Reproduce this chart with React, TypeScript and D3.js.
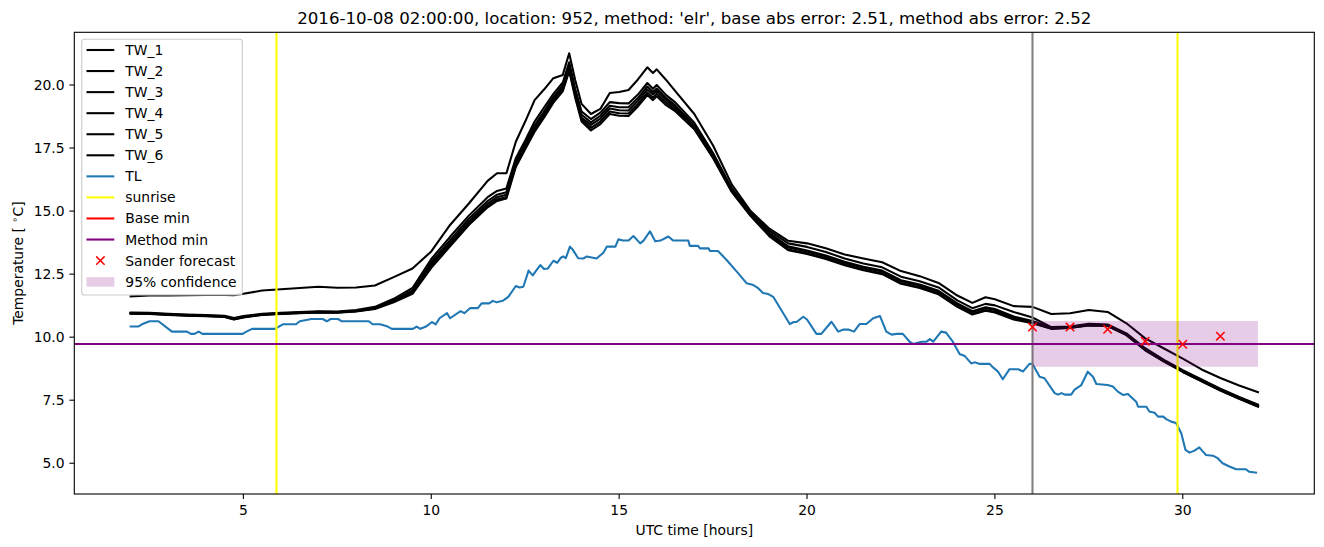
import React from 'react';
import * as d3 from 'd3';

const TITLE = "2016-10-08 02:00:00, location: 952, method: 'elr', base abs error: 2.51, method abs error: 2.52";
const X_TICKS = [5, 10, 15, 20, 25, 30];
const Y_TICKS = [5, 7.5, 10, 12.5, 15, 17.5, 20];
const X_DOMAIN = [0.5, 33.5];
const Y_DOMAIN = [3.78, 22.09];

const T_TW = [2, 2.5, 3, 3.5, 4, 4.5, 4.75, 5, 5.5, 6, 6.5, 7, 7.5, 8, 8.5, 9, 9.5, 10, 10.5, 11, 11.5, 11.75, 12, 12.25, 12.5, 12.75, 13, 13.25, 13.5, 13.67, 13.83, 14, 14.25, 14.5, 14.75, 15, 15.25, 15.5, 15.75, 15.9, 16, 16.25, 16.5, 17, 17.5, 18, 18.5, 19, 19.5, 20, 20.5, 21, 21.5, 22, 22.5, 23, 23.5, 24, 24.4, 24.75, 25, 25.5, 26, 26.5, 27, 27.5, 28, 28.5, 29, 29.5, 30, 30.5, 31, 31.5, 32];

const TW_1 = [11.62, 11.65, 11.65, 11.66, 11.67, 11.67, 11.66, 11.72, 11.85, 11.9, 11.95, 12.0, 11.96, 11.97, 12.05, 12.38, 12.72, 13.4, 14.45, 15.3, 16.2, 16.5, 16.5, 17.75, 18.55, 19.4, 19.82, 20.27, 20.4, 21.26, 20.2, 19.25, 18.85, 19.05, 19.68, 19.72, 19.8, 20.22, 20.7, 20.48, 20.62, 20.2, 19.75, 18.85, 17.6, 16.05, 15.0, 14.3, 13.82, 13.72, 13.53, 13.28, 13.12, 12.97, 12.62, 12.42, 12.15, 11.65, 11.36, 11.58, 11.5, 11.23, 11.2, 10.92, 10.95, 11.08, 11.0, 10.55, 9.95, 9.55, 9.15, 8.72, 8.38, 8.08, 7.82];
const TW_2 = [10.98, 10.97, 10.93, 10.9, 10.88, 10.85, 10.76, 10.84, 10.93, 10.97, 11.0, 11.03, 11.02, 11.08, 11.2, 11.52, 11.95, 13.1, 13.98, 14.82, 15.55, 15.8, 15.9, 17.1, 17.8, 18.55, 19.1, 19.65, 20.1, 20.9, 19.85, 18.95, 18.65, 18.9, 19.32, 19.28, 19.27, 19.62, 20.08, 19.85, 20.0, 19.6, 19.3, 18.5, 17.3, 15.9, 14.95, 14.22, 13.72, 13.58, 13.38, 13.12, 12.92, 12.77, 12.4, 12.22, 11.97, 11.46, 11.15, 11.32, 11.26, 11.0, 10.78, 10.4, 10.42, 10.53, 10.5, 10.15, 9.56, 9.1, 8.69, 8.32, 7.96, 7.63, 7.33];
const TW_3 = [10.96, 10.95, 10.91, 10.88, 10.86, 10.83, 10.73, 10.81, 10.91, 10.95, 10.98, 11.01, 11.0, 11.05, 11.16, 11.46, 11.85, 12.98, 13.85, 14.7, 15.4, 15.65, 15.75, 16.98, 17.68, 18.4, 18.95, 19.52, 19.98, 20.8, 19.72, 18.82, 18.52, 18.78, 19.18, 19.12, 19.12, 19.48, 19.94, 19.72, 19.86, 19.48, 19.18, 18.4, 17.22, 15.85, 14.9, 14.14, 13.6, 13.44, 13.24, 12.99, 12.79, 12.64, 12.26, 12.09, 11.84, 11.34, 11.03, 11.19, 11.12, 10.82, 10.64, 10.37, 10.4, 10.5, 10.48, 10.12, 9.52, 9.07, 8.66, 8.29, 7.92, 7.6, 7.29];
const TW_4 = [10.94, 10.93, 10.89, 10.86, 10.84, 10.81, 10.71, 10.79, 10.89, 10.93, 10.96, 10.99, 10.98, 11.03, 11.14, 11.43, 11.8, 12.9, 13.75, 14.6, 15.3, 15.55, 15.65, 16.9, 17.6, 18.3, 18.85, 19.45, 19.9, 20.7, 19.65, 18.7, 18.42, 18.67, 19.07, 19.0, 18.99, 19.37, 19.82, 19.62, 19.77, 19.4, 19.1, 18.32, 17.16, 15.8, 14.86, 14.1, 13.56, 13.4, 13.2, 12.95, 12.75, 12.6, 12.22, 12.05, 11.8, 11.3, 11.0, 11.15, 11.08, 10.78, 10.6, 10.35, 10.38, 10.48, 10.46, 10.1, 9.5, 9.05, 8.64, 8.27, 7.9, 7.58, 7.26];
const TW_5 = [10.95, 10.94, 10.9, 10.87, 10.85, 10.82, 10.72, 10.8, 10.9, 10.94, 10.97, 11.0, 10.99, 11.04, 11.14, 11.42, 11.77, 12.82, 13.66, 14.52, 15.21, 15.46, 15.56, 16.82, 17.52, 18.22, 18.77, 19.38, 19.83, 20.62, 19.58, 18.63, 18.3, 18.55, 18.95, 18.88, 18.87, 19.25, 19.7, 19.5, 19.65, 19.3, 19.02, 18.28, 17.13, 15.78, 14.83, 14.03, 13.48, 13.33, 13.13, 12.88, 12.68, 12.53, 12.15, 11.98, 11.73, 11.23, 10.93, 11.08, 11.01, 10.73, 10.57, 10.34, 10.37, 10.47, 10.45, 10.09, 9.49, 9.04, 8.63, 8.26, 7.89, 7.57, 7.25];
const TW_6 = [10.93, 10.92, 10.88, 10.85, 10.83, 10.8, 10.7, 10.78, 10.88, 10.92, 10.95, 10.98, 10.97, 11.02, 11.12, 11.38, 11.72, 12.75, 13.6, 14.45, 15.15, 15.4, 15.5, 16.75, 17.45, 18.15, 18.7, 19.3, 19.75, 20.55, 19.5, 18.55, 18.2, 18.45, 18.85, 18.78, 18.77, 19.15, 19.6, 19.4, 19.55, 19.2, 18.95, 18.25, 17.1, 15.75, 14.8, 14.0, 13.45, 13.3, 13.1, 12.85, 12.65, 12.5, 12.12, 11.95, 11.7, 11.2, 10.9, 11.05, 10.98, 10.7, 10.55, 10.33, 10.36, 10.46, 10.44, 10.08, 9.48, 9.03, 8.62, 8.25, 7.88, 7.56, 7.24];

const TL_T = [2.0, 2.2, 2.3, 2.5, 2.74, 3.1, 3.5, 3.6, 3.7, 3.81, 3.91, 4.98, 5.08, 5.23, 5.84, 6.05, 6.4, 6.5, 6.81, 7.11, 7.22, 7.32, 7.52, 7.62, 8.34, 8.44, 8.64, 8.84, 8.95, 9.51, 9.61, 9.71, 9.86, 10.02, 10.12, 10.22, 10.42, 10.5, 10.78, 10.88, 11.03, 11.24, 11.34, 11.54, 11.64, 11.74, 11.9, 12.05, 12.25, 12.35, 12.45, 12.59, 12.7, 12.9, 13.0, 13.1, 13.25, 13.35, 13.45, 13.51, 13.58, 13.69, 13.75, 13.91, 14.05, 14.14, 14.4, 14.58, 14.67, 14.9, 14.98, 15.1, 15.25, 15.38, 15.56, 15.65, 15.82, 15.96, 16.1, 16.31, 16.44, 16.84, 16.88, 17.1, 17.15, 17.38, 17.42, 17.63, 17.86, 18.13, 18.39, 18.55, 18.7, 18.83, 18.97, 19.1, 19.54, 19.65, 19.72, 19.9, 20.0, 20.25, 20.38, 20.65, 20.83, 20.97, 21.1, 21.25, 21.4, 21.58, 21.76, 21.94, 22.11, 22.25, 22.38, 22.55, 22.73, 22.82, 23.05, 23.18, 23.27, 23.36, 23.57, 23.7, 23.88, 24.06, 24.2, 24.37, 24.46, 24.6, 24.86, 24.95, 25.08, 25.21, 25.39, 25.62, 25.75, 25.92, 26.0, 26.19, 26.32, 26.59, 26.68, 26.77, 26.86, 27.03, 27.12, 27.3, 27.47, 27.61, 27.7, 28.0, 28.14, 28.27, 28.41, 28.54, 28.76, 28.81, 29.03, 29.11, 29.25, 29.34, 29.48, 29.56, 29.69, 29.82, 29.96, 30.07, 30.18, 30.31, 30.44, 30.53, 30.62, 30.8, 30.93, 31.06, 31.24, 31.42, 31.68, 31.77, 31.95];
const TL_V = [10.42, 10.42, 10.51, 10.63, 10.63, 10.22, 10.22, 10.13, 10.13, 10.22, 10.13, 10.13, 10.22, 10.33, 10.33, 10.51, 10.51, 10.63, 10.72, 10.72, 10.63, 10.72, 10.72, 10.63, 10.63, 10.51, 10.51, 10.42, 10.33, 10.33, 10.42, 10.33, 10.42, 10.6, 10.51, 10.75, 10.95, 10.75, 11.03, 10.95, 11.15, 11.15, 11.34, 11.34, 11.44, 11.38, 11.44, 11.6, 12.03, 11.97, 12.0, 12.64, 12.45, 12.86, 12.7, 12.72, 13.03, 12.95, 13.15, 13.2, 13.13, 13.59, 13.5, 13.13, 13.12, 13.2, 13.12, 13.35, 13.59, 13.59, 13.88, 13.83, 13.83, 14.01, 13.72, 13.83, 14.2, 13.8, 13.83, 13.99, 13.83, 13.83, 13.62, 13.62, 13.52, 13.52, 13.42, 13.42, 13.06, 12.6, 12.14, 12.08, 11.94, 11.75, 11.71, 11.6, 10.52, 10.6, 10.6, 10.81, 10.7, 10.13, 10.13, 10.61, 10.22, 10.3, 10.3, 10.22, 10.52, 10.52, 10.75, 10.84, 10.22, 10.1, 10.13, 10.13, 9.82, 9.73, 9.82, 9.82, 9.92, 9.82, 10.22, 10.18, 9.82, 9.33, 9.25, 8.96, 9.0, 8.94, 8.94, 8.8, 8.64, 8.33, 8.73, 8.73, 8.64, 8.94, 8.94, 8.43, 8.37, 7.78, 7.72, 7.78, 7.72, 7.72, 7.92, 8.1, 8.63, 8.43, 8.14, 8.1, 8.04, 7.84, 7.71, 7.75, 7.44, 7.24, 7.24, 7.05, 7.0, 6.85, 6.85, 6.75, 6.65, 6.6, 6.19, 5.53, 5.42, 5.5, 5.63, 5.47, 5.33, 5.3, 5.2, 5.0, 4.87, 4.76, 4.76, 4.66, 4.63];

const SUNRISE = [5.88, 29.86];
const NOW_T = [26];
const BASE_MIN = [9.73];
const METHOD_MIN = [9.73];
const SANDER_T = [26, 27, 28, 29, 30, 31];
const SANDER_V = [10.4, 10.4, 10.31, 9.84, 9.72, 10.04];
const CONF_T = [26, 32];
const CONF_LO = [8.83, 8.83];
const CONF_HI = [10.64, 10.64];

const TW_SERIES = [TW_1, TW_2, TW_3, TW_4, TW_5, TW_6];
const LEGEND = ['TW_1', 'TW_2', 'TW_3', 'TW_4', 'TW_5', 'TW_6', 'TL', 'sunrise', 'Base min', 'Method min', 'Sander forecast', '95% confidence'];

const W = 1324, H = 547;
const L = 74.3, R = 1314.3, TOP = 32.3, BOT = 494;
const FONT = 'DejaVu Sans, sans-serif';
const TL_COLOR = '#1f77b4';

export default function App() {
  const x = d3.scaleLinear().domain(X_DOMAIN).range([L, R]);
  const y = d3.scaleLinear().domain(Y_DOMAIN).range([BOT, TOP]);
  const line = d3.line<[number, number]>().x(d => x(d[0])).y(d => y(d[1]));
  const area = d3.area<number>().x((_, i) => x(CONF_T[i])).y0((_, i) => y(CONF_LO[i])).y1((_, i) => y(CONF_HI[i]));

  const legendX = 81.7, legendY = 39.3, legendW = 160.6, legendH = 255.7;
  const rowY = (i: number) => 50 + i * 21.06;
  const legendHandle = (i: number) => {
    const yy = rowY(i);
    const x0 = 86.5, x1 = 114.3;
    if (i < 6) return <line x1={x0} x2={x1} y1={yy} y2={yy} stroke="black" strokeWidth={2.08} />;
    const colors: Record<number, string> = { 6: TL_COLOR, 7: '#ffff00', 8: '#ff0000', 9: '#800080' };
    if (colors[i]) return <line x1={x0} x2={x1} y1={yy} y2={yy} stroke={colors[i]} strokeWidth={2.08} />;
    if (i === 10) {
      const cx = (x0 + x1) / 2, s = 4.2;
      return <path d={`M${cx - s},${yy - s}L${cx + s},${yy + s}M${cx - s},${yy + s}L${cx + s},${yy - s}`} stroke="#ff0000" strokeWidth={1.5} />;
    }
    return <rect x={x0} y={yy - 4.5} width={x1 - x0} height={9.5} fill="#800080" fillOpacity={0.2} />;
  };

  return (
    <svg width={W} height={H} style={{ position: 'absolute', left: 0, top: 0, background: 'white' }} fontFamily={FONT}>
      <rect x={0} y={0} width={W} height={H} fill="white" />
      <defs>
        <clipPath id="plotclip"><rect x={L} y={TOP} width={R - L} height={BOT - TOP} /></clipPath>
      </defs>
      <g clipPath="url(#plotclip)">
        {TW_SERIES.map((s, k) => (
          <path key={k} d={line(T_TW.map((t, i) => [t, s[i]] as [number, number])) || ''} fill="none" stroke="black" strokeWidth={2.08} strokeLinejoin="round" strokeLinecap="square" />
        ))}
        <path d={line(TL_T.map((t, i) => [t, TL_V[i]] as [number, number])) || ''} fill="none" stroke={TL_COLOR} strokeWidth={2.08} strokeLinejoin="round" strokeLinecap="square" />
        {SUNRISE.map((t, i) => <line key={i} x1={x(t)} x2={x(t)} y1={TOP} y2={BOT} stroke="#ffff00" strokeWidth={2.08} />)}
        {NOW_T.map((t, i) => <line key={i} x1={x(t)} x2={x(t)} y1={TOP} y2={BOT} stroke="#808080" strokeWidth={2.08} />)}
        {BASE_MIN.map((v, i) => <line key={i} x1={L} x2={R} y1={y(v)} y2={y(v)} stroke="#ff0000" strokeWidth={2.08} />)}
        {METHOD_MIN.map((v, i) => <line key={i} x1={L} x2={R} y1={y(v)} y2={y(v)} stroke="#800080" strokeWidth={2.08} />)}
        <path d={area(CONF_T) || ''} fill="#800080" fillOpacity={0.2} />
        {SANDER_T.map((t, i) => {
          const cx = x(t), cy = y(SANDER_V[i]), s = 4.2;
          return <path key={i} d={`M${cx - s},${cy - s}L${cx + s},${cy + s}M${cx - s},${cy + s}L${cx + s},${cy - s}`} stroke="#ff0000" strokeWidth={1.5} />;
        })}
      </g>
      <rect x={L} y={TOP} width={R - L} height={BOT - TOP} fill="none" stroke="black" strokeWidth={1.1} />
      {X_TICKS.map(t => (
        <g key={t}>
          <line x1={x(t)} x2={x(t)} y1={BOT} y2={BOT + 4.9} stroke="black" strokeWidth={1.1} />
          <text x={x(t)} y={BOT + 20.5} textAnchor="middle" fontSize={13.9} fill="black">{t}</text>
        </g>
      ))}
      {Y_TICKS.map(v => (
        <g key={v}>
          <line x1={L - 4.9} x2={L} y1={y(v)} y2={y(v)} stroke="black" strokeWidth={1.1} />
          <text x={L - 9.7} y={y(v) + 5} textAnchor="end" fontSize={13.9} fill="black">{v.toFixed(1)}</text>
        </g>
      ))}
      <text x={(L + R) / 2} y={535} textAnchor="middle" fontSize={13.9} fill="black">UTC time [hours]</text>
      <text transform={`translate(23,${(TOP + BOT) / 2}) rotate(-90)`} textAnchor="middle" fontSize={13.9} fill="black">
        Temperature [ <tspan fontSize={9.7} dy={-5}>∘</tspan><tspan dy={5}>C]</tspan>
      </text>
      <text x={(L + R) / 2} y={23.5} textAnchor="middle" fontSize={16.67} fill="black">{TITLE}</text>
      <rect x={legendX} y={legendY} width={legendW} height={legendH} rx={2.8} fill="white" fillOpacity={0.8} stroke="#cccccc" strokeWidth={1.1} />
      {LEGEND.map((lab, i) => (
        <g key={lab}>
          {legendHandle(i)}
          <text x={125.3} y={rowY(i) + 5} fontSize={13.9} fill="black">{lab}</text>
        </g>
      ))}
    </svg>
  );
}
